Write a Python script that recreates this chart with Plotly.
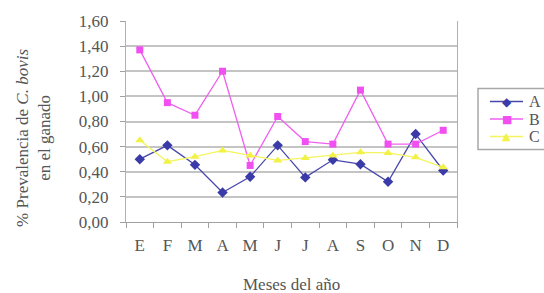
import plotly.graph_objects as go

months = ["E", "F", "M", "A", "M", "J", "J", "A", "S", "O", "N", "D"]
serie_a = [0.50, 0.61, 0.455, 0.235, 0.36, 0.61, 0.355, 0.495, 0.46, 0.32, 0.70, 0.41]
serie_b = [1.37, 0.95, 0.85, 1.20, 0.45, 0.84, 0.64, 0.62, 1.05, 0.62, 0.62, 0.73]
serie_c = [0.65, 0.48, 0.52, 0.57, 0.53, 0.49, 0.51, 0.53, 0.555, 0.55, 0.515, 0.435]
series_names = ["A", "B", "C"]
y_ticks = [0, 0.2, 0.4, 0.6, 0.8, 1.0, 1.2, 1.4, 1.6]

line_colors = ["#4848ac", "#f060f0", "#f4f460"]
marker_colors = ["#3a3aa8", "#f050f0", "#f2f245"]
symbols = ["diamond", "square", "triangle-up"]
glyphs = ["\u25c6", "\u25a0", "\u25b2"]
glyph_sizes = [12, 11, 11]

x = list(range(len(months)))
font_fam = "Liberation Serif"
txt = "#555555"

W, H = 544, 293
L, R, T, B = 126, 87, 21, 71
PW, PH = W - L - R, H - T - B


def px(xp):
    return (xp - L) / PW


def py(yp):
    return (H - B - yp) / PH


fig = go.Figure()
for name, vals, lc, mc, sym in zip(series_names, [serie_a, serie_b, serie_c],
                                   line_colors, marker_colors, symbols):
    fig.add_trace(go.Scatter(x=x, y=vals, name=name, mode="lines+markers",
                             showlegend=False,
                             line=dict(color=lc, width=1.3),
                             marker=dict(symbol=sym, size=8 if sym != "square" else 7,
                                         color=mc)))

fig.update_layout(
    width=W, height=H,
    margin=dict(l=L, r=R, t=T, b=B, autoexpand=False),
    paper_bgcolor="white", plot_bgcolor="white",
    separators=",.",
    showlegend=False,
    font=dict(family=font_fam, size=17, color=txt),
    xaxis=dict(range=[-0.5, len(months) - 0.5], automargin=False,
               tickmode="array", tickvals=x, ticktext=months,
               ticks="", showgrid=False, zeroline=False,
               showline=True, linecolor="#a0a0a0", linewidth=1.2,
               ticklabelstandoff=7,
               tickfont=dict(size=17, color=txt, family=font_fam),
               minor=dict(tickmode="array",
                          tickvals=[i - 0.5 for i in range(len(months) + 1)],
                          ticks="outside", ticklen=5, tickcolor="#a0a0a0",
                          showgrid=False)),
    yaxis=dict(range=[0, 1.6], tickmode="array", tickvals=y_ticks, automargin=False,
               tickformat=".2f", ticks="outside", ticklen=5, tickcolor="#a0a0a0",
               ticklabelstandoff=8,
               showgrid=True, gridcolor="#c4c4c4", gridwidth=1.5,
               zeroline=False, showline=True, mirror=True,
               linecolor="#b0b0b0", linewidth=1.2,
               tickfont=dict(size=17, color=txt, family=font_fam)),
)

fig.add_annotation(text="Meses del año", xref="paper", yref="paper",
                   x=0.5, y=py(284), xanchor="center", yanchor="middle",
                   showarrow=False, font=dict(size=17, color=txt, family=font_fam))

fig.add_annotation(text="% Prevalencia de <i>C. bovis</i><br>en el ganado",
                   xref="paper", yref="paper", x=-0.28, y=0.42,
                   xanchor="center", yanchor="middle", textangle=-90,
                   showarrow=False, font=dict(size=17, color=txt, family=font_fam))

# legend box
fig.add_shape(type="rect", xref="paper", yref="paper",
              x0=px(478), x1=px(570), y0=py(88.5), y1=py(149.5),
              line=dict(color="#a8a8a8", width=1.5), fillcolor="white", layer="above")
legend_y = [101.5, 119.0, 136.5]
for name, lc, mc, g, gs, ly in zip(series_names, line_colors, marker_colors,
                                   glyphs, glyph_sizes, legend_y):
    fig.add_shape(type="line", xref="paper", yref="paper",
                  x0=px(490), x1=px(523), y0=py(ly), y1=py(ly),
                  line=dict(color=lc, width=1.3), layer="above")
    fig.add_annotation(text=g, xref="paper", yref="paper", x=px(506.5), y=py(ly),
                       xanchor="center", yanchor="middle", showarrow=False,
                       borderpad=0,
                       font=dict(size=gs, color=mc, family="DejaVu Sans"))
    fig.add_annotation(text=name, xref="paper", yref="paper", x=px(528), y=py(ly),
                       xanchor="left", yanchor="middle", showarrow=False,
                       borderpad=0,
                       font=dict(size=16, color=txt, family=font_fam))

fig.write_html("out.html", config={"displayModeBar": False},
               post_script="document.body.style.margin='0px';")
